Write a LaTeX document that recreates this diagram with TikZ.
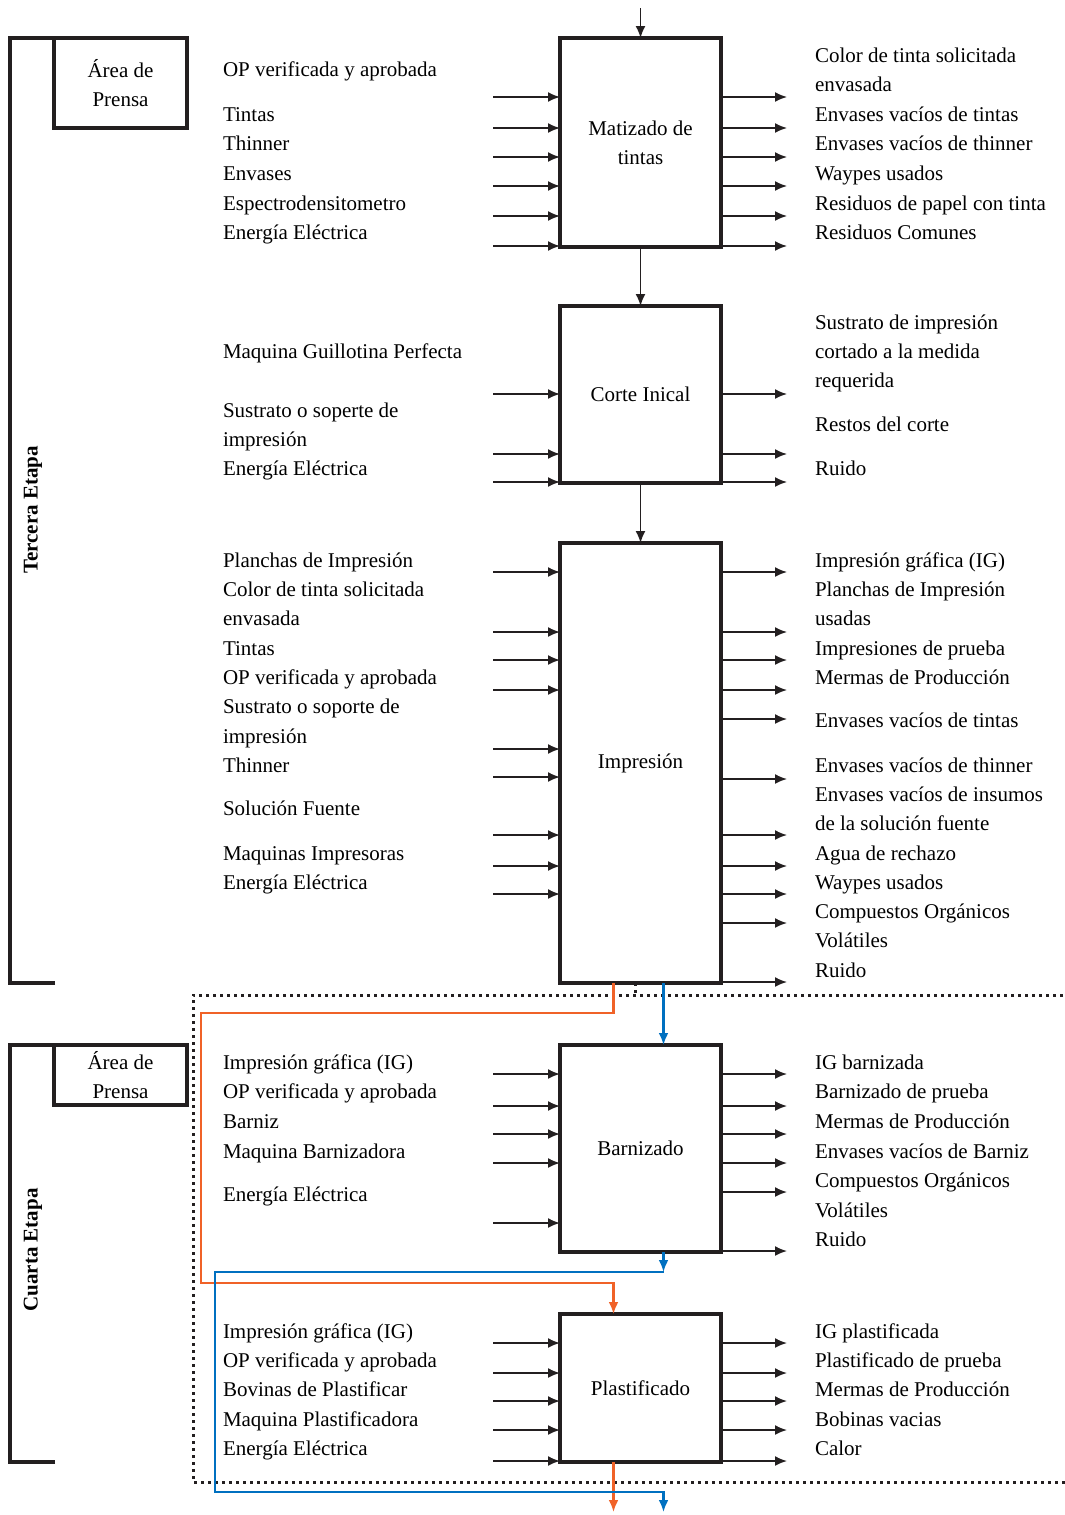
\documentclass[tikz,border=0pt]{standalone}
\usepackage{fontspec}
\setmainfont{Liberation Serif}
\usepackage{xcolor}
\definecolor{lineagray}{RGB}{35,31,32}
\definecolor{flujoorange}{RGB}{240,98,40}
\definecolor{flujoblue}{RGB}{0,112,192}
\usetikzlibrary{arrows.meta, positioning, calc}

\begin{document}
\begin{tikzpicture}[x=1pt, y=-1pt,
  txt/.style={font=\fontsize{21}{29}\selectfont, inner sep=0pt, outer sep=0pt},
  lbl/.style={txt, anchor=mid west, yshift=-5pt},
  proc/.style={txt, draw=lineagray, line width=3.2pt, minimum width=161pt, align=center},
  area/.style={txt, draw=lineagray, line width=3.2pt, minimum width=133pt, align=center, anchor=north west},
  etapa/.style={font=\fontsize{21}{29}\selectfont\bfseries, inner sep=0pt, rotate=90},
  frame/.style={draw=lineagray, line width=3.2pt},
  flow/.style={draw=lineagray, line width=1.7pt, -{Latex[length=12pt,width=10pt]}},
  orangeflow/.style={draw=flujoorange, line width=2.6pt, -{Latex[length=12pt,width=10pt]}},
  blueflow/.style={draw=flujoblue, line width=2.6pt, -{Latex[length=12pt,width=10pt]}},
  dotframe/.style={draw=lineagray, line width=3pt, dash pattern=on 3pt off 4pt}]
  \useasboundingbox (0,0) rectangle (1065,1515);

  % --- Tercera Etapa ---
  \node[area, minimum height=90pt] (area3) at (54,38) {Área de\\Prensa};
  \draw[frame] (55,983) -- (10,983) -- (10,38) -- (area3.north west);
  \node[etapa] (etapa3) at (33,510) {Tercera Etapa};

  % Matizado de tintas
  \node[proc, minimum height=209pt] (mat) at (640.5,142.5) {Matizado de\\tintas};
  \draw[flow] (mat.north |- 0,8) -- (mat.north);
  \foreach \y in {97,128,157,186,216,246}{
    \draw[flow] ($(mat.west |- 0,\y)+(-67,0)$) -- (mat.west |- 0,\y);
    \draw[flow] (mat.east |- 0,\y) -- ($(mat.east |- 0,\y)+(66,0)$);
  }
  \foreach \y/\t [count=\i] in {69/OP verificada y aprobada, 114/Tintas, 143/Thinner,
      173/Envases, 203/Espectrodensitometro, 232/Energía Eléctrica}
    \node[lbl] (matin\i) at (223,\y) {\t};
  \foreach \y/\t [count=\i] in {55/Color de tinta solicitada, 84/envasada,
      114/Envases vacíos de tintas, 143/Envases vacíos de thinner, 173/Waypes usados,
      203/Residuos de papel con tinta, 232/Residuos Comunes}
    \node[lbl] (matout\i) at (815,\y) {\t};

  % Corte Inical
  \node[proc, minimum height=177pt] (cor) at (640.5,394.5) {Corte Inical};
  \draw[flow] (mat.south) -- (cor.north);
  \foreach \y in {394,454,482}{
    \draw[flow] ($(cor.west |- 0,\y)+(-67,0)$) -- (cor.west |- 0,\y);
    \draw[flow] (cor.east |- 0,\y) -- ($(cor.east |- 0,\y)+(66,0)$);
  }
  \foreach \y/\t [count=\i] in {351/Maquina Guillotina Perfecta, 410/Sustrato o soperte de,
      439/impresión, 468/Energía Eléctrica}
    \node[lbl] (corin\i) at (223,\y) {\t};
  \foreach \y/\t [count=\i] in {322/Sustrato de impresión, 351/cortado a la medida,
      380/requerida, 424/Restos del corte, 468/Ruido}
    \node[lbl] (corout\i) at (815,\y) {\t};

  % Impresion
  \node[proc, minimum height=440pt] (imp) at (640.5,763) {Impresión};
  \draw[flow] (cor.south) -- (imp.north);
  \foreach \y in {572,632,660,690,749,777,835,866,894}
    \draw[flow] ($(imp.west |- 0,\y)+(-67,0)$) -- (imp.west |- 0,\y);
  \foreach \y in {572,632,660,690,719,779,835,866,894,923,982}
    \draw[flow] (imp.east |- 0,\y) -- ($(imp.east |- 0,\y)+(66,0)$);
  \foreach \y/\t [count=\i] in {560/Planchas de Impresión, 589/Color de tinta solicitada,
      618/envasada, 648/Tintas, 677/OP verificada y aprobada, 706/Sustrato o soporte de,
      736/impresión, 765/Thinner, 808/Solución Fuente, 853/Maquinas Impresoras,
      882/Energía Eléctrica}
    \node[lbl] (impin\i) at (223,\y) {\t};
  \foreach \y/\t [count=\i] in {560/Impresión gráfica (IG), 589/Planchas de Impresión,
      618/usadas, 648/Impresiones de prueba, 677/Mermas de Producción,
      720/Envases vacíos de tintas, 765/Envases vacíos de thinner,
      794/Envases vacíos de insumos, 823/de la solución fuente, 853/Agua de rechazo,
      882/Waypes usados, 911/Compuestos Orgánicos, 940/Volátiles, 970/Ruido}
    \node[lbl] (impout\i) at (815,\y) {\t};

  % --- Cuarta Etapa ---
  \draw[dotframe] (1070,995) -- (193,995) -- (193,1482) -- (1070,1482);
  \draw[dotframe] ([xshift=-5pt]imp.south) -- ++(0,12);
  \node[area, minimum height=60pt] (area4) at (54,1045) {Área de\\Prensa};
  \draw[frame] (55,1462) -- (10,1462) -- (10,1045) -- (area4.north west);
  \node[etapa] (etapa4) at (33,1250) {Cuarta Etapa};

  % Barnizado
  \node[proc, minimum height=207pt] (bar) at (640.5,1148.5) {Barnizado};
  \foreach \y in {1074,1106,1134,1163,1223}
    \draw[flow] ($(bar.west |- 0,\y)+(-67,0)$) -- (bar.west |- 0,\y);
  \foreach \y in {1074,1106,1134,1163,1192,1251}
    \draw[flow] (bar.east |- 0,\y) -- ($(bar.east |- 0,\y)+(66,0)$);
  \foreach \y/\t [count=\i] in {1062/Impresión gráfica (IG), 1091/OP verificada y aprobada,
      1121/Barniz, 1151/Maquina Barnizadora, 1194/Energía Eléctrica}
    \node[lbl] (barin\i) at (223,\y) {\t};
  \foreach \y/\t [count=\i] in {1062/IG barnizada, 1091/Barnizado de prueba,
      1121/Mermas de Producción, 1151/Envases vacíos de Barniz,
      1180/Compuestos Orgánicos, 1210/Volátiles, 1239/Ruido}
    \node[lbl] (barout\i) at (815,\y) {\t};

  % Plastificado
  \node[proc, minimum height=148pt] (pla) at (640.5,1388) {Plastificado};
  \foreach \y in {1343,1373,1401,1430,1461}{
    \draw[flow] ($(pla.west |- 0,\y)+(-67,0)$) -- (pla.west |- 0,\y);
    \draw[flow] (pla.east |- 0,\y) -- ($(pla.east |- 0,\y)+(66,0)$);
  }
  \foreach \y/\t [count=\i] in {1331/Impresión gráfica (IG), 1360/OP verificada y aprobada,
      1389/Bovinas de Plastificar, 1419/Maquina Plastificadora, 1448/Energía Eléctrica}
    \node[lbl] (plain\i) at (223,\y) {\t};
  \foreach \y/\t [count=\i] in {1331/IG plastificada, 1360/Plastificado de prueba,
      1389/Mermas de Producción, 1419/Bobinas vacias, 1448/Calor}
    \node[lbl] (plaout\i) at (815,\y) {\t};

  % Colored flows
  \draw[orangeflow] ([xshift=-27pt]imp.south) -- ++(0,30) -| (201,1283)
    -| ([xshift=-27pt]pla.north);
  \draw[orangeflow] ([xshift=-27pt]pla.south) -- ++(0,50);
  \draw[blueflow] ([xshift=23pt]imp.south) -- ([xshift=23pt]bar.north);
  \coordinate (bjoin) at ([xshift=23pt,yshift=-20pt]bar.south);
  \draw[blueflow] ([xshift=23pt]bar.south) -- (bjoin);
  \draw[blueflow] (bjoin) -| (215,1492) -| ([xshift=23pt,yshift=-50pt]pla.south);
\end{tikzpicture}
\end{document}
